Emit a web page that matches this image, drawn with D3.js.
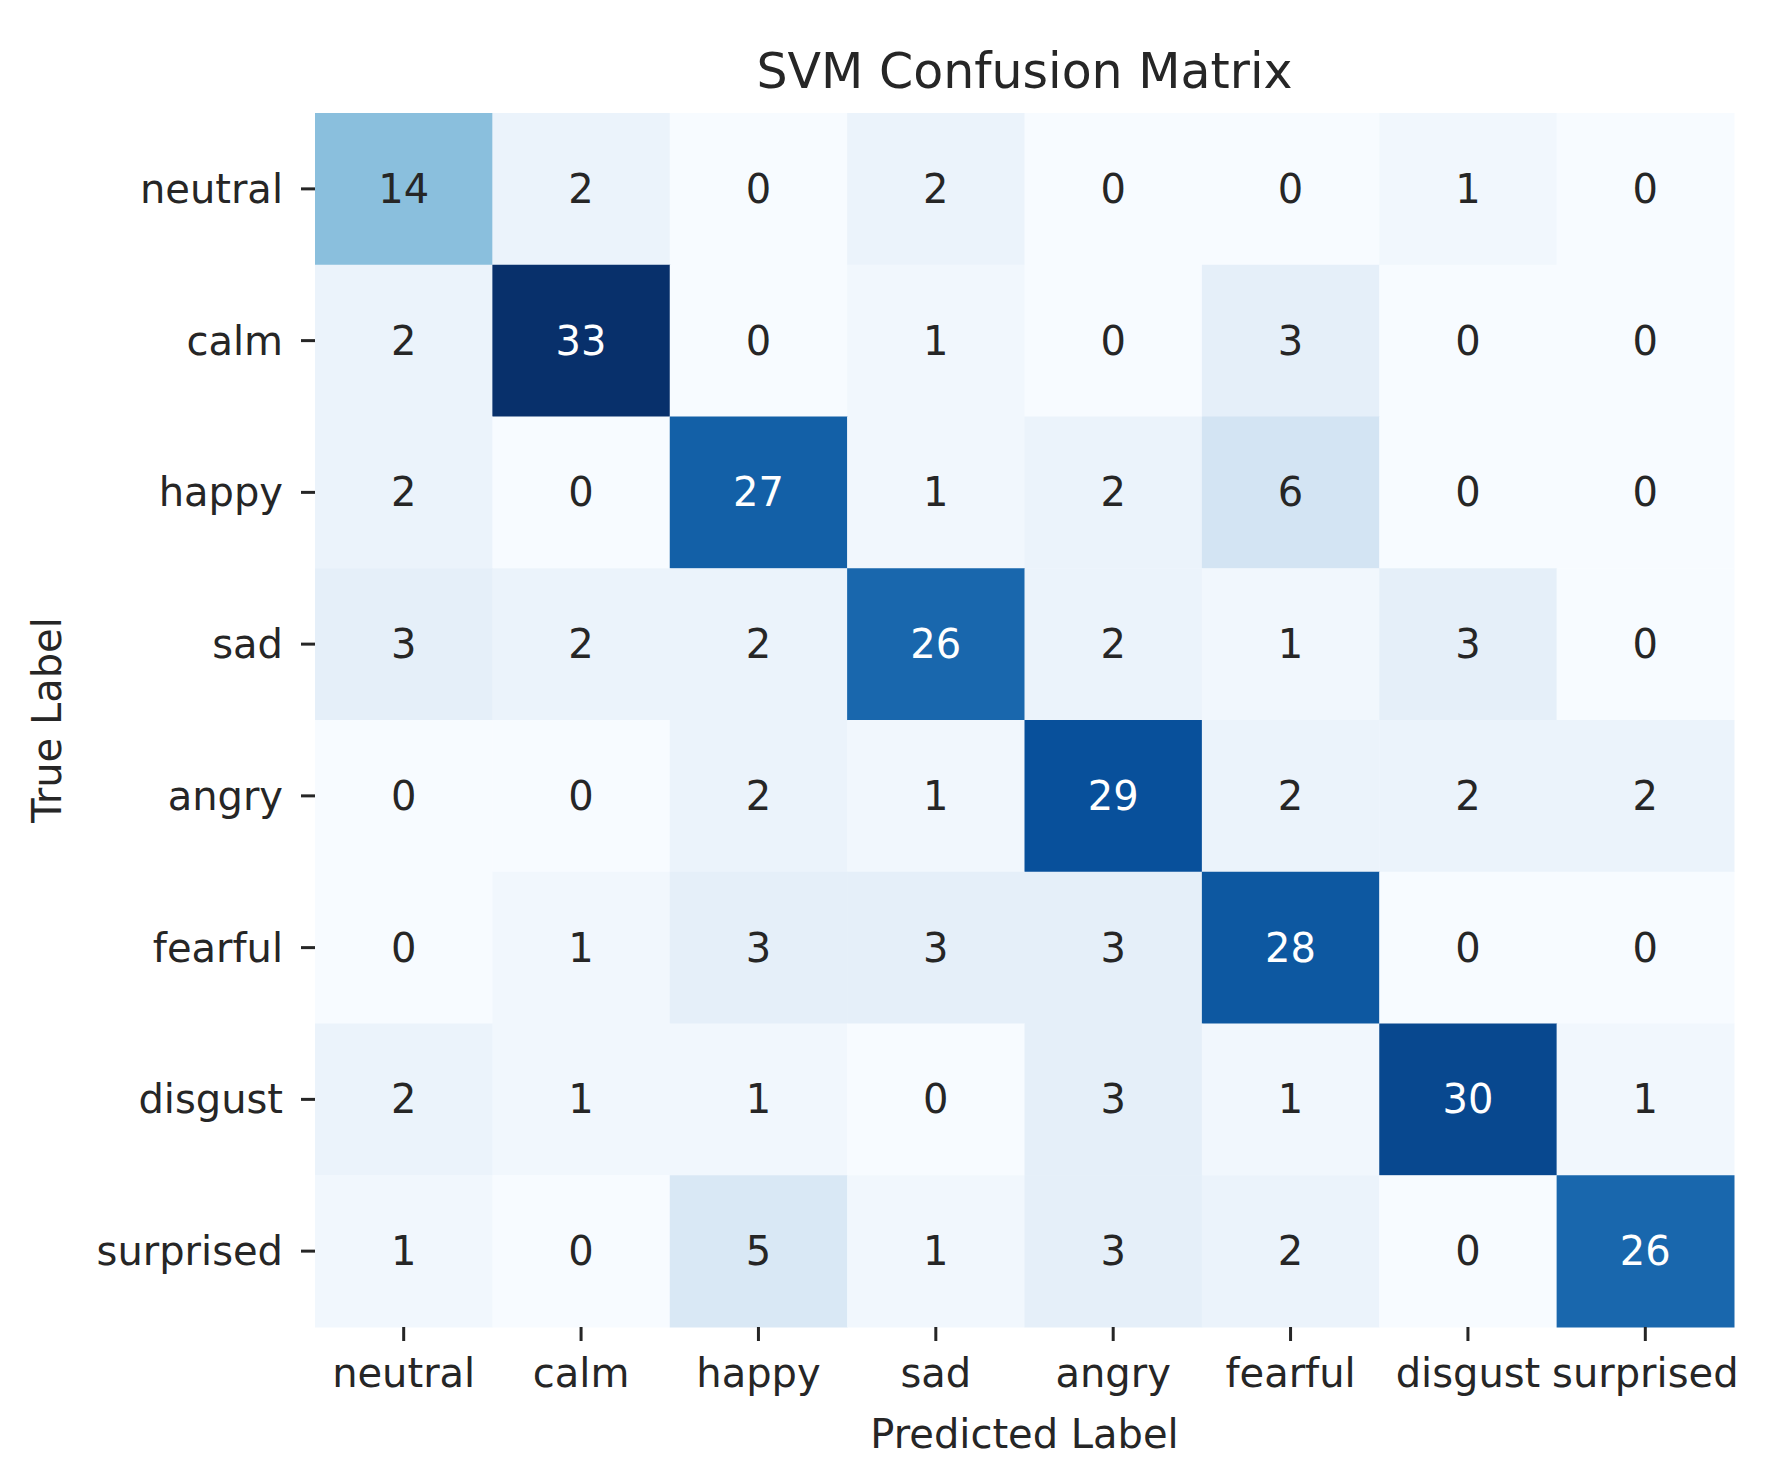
<!DOCTYPE html>
<html>
<head>
<meta charset="utf-8">
<script src="https://cdn.jsdelivr.net/npm/d3@7"></script>
<style>
  body { margin: 0; background: #fff; }
  text { font-family: "DejaVu Sans", sans-serif; fill: #262626; }
</style>
</head>
<body>
<div id="chart"></div>
<script>
// labels, same order on both axes
const classes = ['neutral', 'calm', 'happy', 'sad', 'angry', 'fearful', 'disgust', 'surprised'];

// one array per true label (rows), values = predicted counts
const neutralRow   = [14, 2, 0, 2, 0, 0, 1, 0];
const calmRow      = [2, 33, 0, 1, 0, 3, 0, 0];
const happyRow     = [2, 0, 27, 1, 2, 6, 0, 0];
const sadRow       = [3, 2, 2, 26, 2, 1, 3, 0];
const angryRow     = [0, 0, 2, 1, 29, 2, 2, 2];
const fearfulRow   = [0, 1, 3, 3, 3, 28, 0, 0];
const disgustRow   = [2, 1, 1, 0, 3, 1, 30, 1];
const surprisedRow = [1, 0, 5, 1, 3, 2, 0, 26];

const matrix = [neutralRow, calmRow, happyRow, sadRow, angryRow, fearfulRow, disgustRow, surprisedRow];

// matplotlib "Blues" control points
const bluesStops = ['#f7fbff', '#deebf7', '#c6dbef', '#9ecae1', '#6baed6', '#4292c6', '#2171b5', '#08519c', '#08306b'];

//----------------- Setup -----------------
const W = 1770, H = 1472;
const margin = { top: 113, right: 36, bottom: 145, left: 315 };
const width = W - margin.left - margin.right,
      height = H - margin.top - margin.bottom;

let cells = [];
matrix.forEach((row, i) => {
    row.forEach((v, j) => {
        cells.push({ t: classes[i], p: classes[j], value: v });
    });
});

const vmax = d3.max(cells, (d) => d.value);
const color = d3.scaleLinear()
    .domain(d3.range(bluesStops.length).map((k) => k / (bluesStops.length - 1) * vmax))
    .range(bluesStops)
    .interpolate(d3.interpolateRgb);

// seaborn style: light text on dark cells
function lum(c) {
    const rgb = d3.rgb(c);
    const f = (x) => { x /= 255; return x <= 0.03928 ? x / 12.92 : Math.pow((x + 0.055) / 1.055, 2.4); };
    return 0.2126 * f(rgb.r) + 0.7152 * f(rgb.g) + 0.0722 * f(rgb.b);
}

const x = d3.scaleBand().domain(classes).range([0, width]);
const y = d3.scaleBand().domain(classes).range([0, height]);

const svg = d3.select('#chart')
    .append('svg')
    .attr('width', W)
    .attr('height', H);

const g = svg.append('g')
    .attr('transform', `translate(${margin.left}, ${margin.top})`);

// cells
g.selectAll('.cell')
    .data(cells)
    .enter()
    .append('rect')
    .attr('class', 'cell')
    .attr('x', (d) => x(d.p))
    .attr('y', (d) => y(d.t))
    .attr('width', x.bandwidth() + 0.5)
    .attr('height', y.bandwidth() + 0.5)
    .attr('fill', (d) => color(d.value));

// annotations
g.selectAll('.annot')
    .data(cells)
    .enter()
    .append('text')
    .attr('class', 'annot')
    .attr('x', (d) => x(d.p) + x.bandwidth() / 2)
    .attr('y', (d) => y(d.t) + y.bandwidth() / 2)
    .attr('dy', '0.35em')
    .attr('text-anchor', 'middle')
    .style('font-size', '40px')
    .style('fill', (d) => lum(color(d.value)) > 0.408 ? '#262626' : '#ffffff')
    .text((d) => d.value);

// axes
const xAxis = g.append('g')
    .attr('transform', `translate(0, ${height})`)
    .call(d3.axisBottom(x).tickSize(14).tickPadding(16));
const yAxis = g.append('g')
    .call(d3.axisLeft(y).tickSize(14).tickPadding(18));

[xAxis, yAxis].forEach((a) => {
    a.select('.domain').remove();
    a.selectAll('.tick line').attr('stroke', '#262626').attr('stroke-width', 3);
    a.selectAll('.tick text').style('font-size', '40px').attr('fill', '#262626');
});
xAxis.selectAll('.tick text').attr('dy', '0.75em');
yAxis.selectAll('.tick text').attr('dy', '0.35em');

// title and axis labels
svg.append('text')
    .attr('x', margin.left + width / 2)
    .attr('y', 88)
    .attr('text-anchor', 'middle')
    .style('font-size', '49px')
    .text('SVM Confusion Matrix');

svg.append('text')
    .attr('x', margin.left + width / 2)
    .attr('y', 1448)
    .attr('text-anchor', 'middle')
    .style('font-size', '40px')
    .text('Predicted Label');

svg.append('text')
    .attr('transform', `translate(61, ${margin.top + height / 2}) rotate(-90)`)
    .attr('text-anchor', 'middle')
    .style('font-size', '40px')
    .text('True Label');
</script>
</body>
</html>
